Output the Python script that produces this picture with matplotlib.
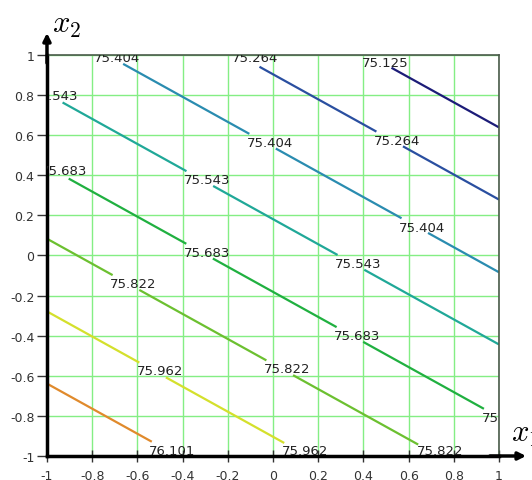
import numpy as np
import matplotlib.pyplot as plt

plt.rcParams['mathtext.fontset'] = 'cm'

# plane: f = b0 + b1*x1 + b2*x2
b0, b1, b2 = 75.613, -0.2413, -0.3861
levels = [75.125, 75.264, 75.404, 75.543, 75.683, 75.822, 75.962, 76.101]
line_colors = ['#1c1c78', '#2a4fa0', '#2a8cb0', '#20a898',
               '#20b040', '#6cc030', '#d4e02c', '#e08a2c']

# where each contour label sits (text centre, data coords)
label_x = [-0.69, -0.08, 0.496, -0.962, -0.925, -0.013, 0.549, -0.292, 0.659, -0.292,
           0.376, -0.619, 0.372, -0.50, 0.062, 1.027, -0.447, 0.142, 0.739]
label_y = [0.985, 0.985, 0.965, 0.80, 0.426, 0.566, 0.576, 0.377, 0.142, 0.017,
           -0.042, -0.142, -0.401, -0.576, -0.566, -0.806, -0.975, -0.975, -0.975]

ticks = [-1, -0.8, -0.6, -0.4, -0.2, 0, 0.2, 0.4, 0.6, 0.8, 1]
tick_labels = ['-1', '-0.8', '-0.6', '-0.4', '-0.2', '0', '0.2', '0.4', '0.6', '0.8', '1']

x1 = np.linspace(-1, 1, 201)
x2 = np.linspace(-1, 1, 201)
X1, X2 = np.meshgrid(x1, x2)
F = b0 + b1 * X1 + b2 * X2

fig = plt.figure(figsize=(5.32, 4.81), dpi=100)
ax = fig.add_axes([0.0883, 0.0499, 0.8496, 0.8337])

cs = ax.contour(X1, X2, F, levels=levels, colors=line_colors, linewidths=1.6)

# the gap in each line sits a little left of the label centre
manual = []
for lx, ly in zip(label_x, label_y):
    px = min(max(lx - 0.035, -0.99), 0.99)
    py = min(max(ly, -0.99), 0.99)
    manual.append((px, py))
ax.clabel(cs, manual=manual, inline=True, inline_spacing=-8,
          fmt='%.3f', fontsize=9.5, colors='#222222')
for t, lx, ly in zip(cs.labelTexts, label_x, label_y):
    t.set_rotation(0)
    t.set_position((lx, ly))
    t.set_clip_on(True)
    t.set_clip_path(ax.patch)

ax.set_xlim(-1, 1)
ax.set_ylim(-1, 1)
ax.set_xticks(ticks)
ax.set_xticklabels(tick_labels)
ax.set_yticks(ticks)
ax.set_yticklabels(tick_labels)
ax.grid(True, color='#84ee84', linewidth=1.0)
ax.set_axisbelow(True)

ax.tick_params(axis='x', direction='inout', length=8, width=1, color='#333333',
               labelsize=9, labelcolor='#333333', pad=5.5)
ax.tick_params(axis='y', direction='out', length=7, width=1, color='#333333',
               labelsize=9, labelcolor='#333333', pad=2)

for s in ['top', 'right']:
    ax.spines[s].set_color('#4a5a4a')
    ax.spines[s].set_linewidth(1.2)
for s in ['left', 'bottom']:
    ax.spines[s].set_color('black')
    ax.spines[s].set_linewidth(2.5)

# axis arrows
ax.annotate('', xy=(0, 1.055), xytext=(0, 0.98), xycoords='axes fraction',
            arrowprops=dict(arrowstyle='-|>', color='black', lw=2.5,
                            mutation_scale=11, shrinkA=0, shrinkB=0),
            annotation_clip=False)
ax.annotate('', xy=(1.06, 0), xytext=(0.98, 0), xycoords='axes fraction',
            arrowprops=dict(arrowstyle='-|>', color='black', lw=2.5,
                            mutation_scale=11, shrinkA=0, shrinkB=0),
            annotation_clip=False)

ax.text(0.011, 1.077, '$x_2$', transform=ax.transAxes, fontsize=22,
        ha='left', va='center')
ax.text(1.027, 0.055, '$x_1$', transform=ax.transAxes, fontsize=22,
        ha='left', va='center')

plt.savefig('out.png', dpi=100)
